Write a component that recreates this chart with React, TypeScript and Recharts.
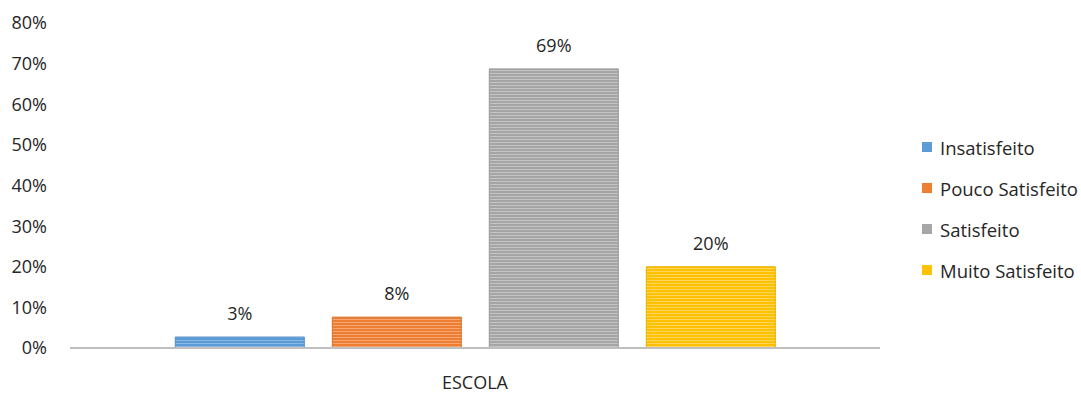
import { BarChart, Bar, XAxis, YAxis, LabelList } from "recharts";

const categories = ["ESCOLA"];
const seriesNames = ["Insatisfeito", "Pouco Satisfeito", "Satisfeito", "Muito Satisfeito"];
const seriesValues = [2.7, 7.6, 68.7, 20];
const yTicks = [0, 10, 20, 30, 40, 50, 60, 70, 80];

const COLORS = ["#5B9BD5", "#ED7D31", "#A5A5A5", "#FFC000"];
const LIGHT = ["#8CB8E3", "#F4A774", "#C4C4C4", "#FFD659"];
const EDGE = ["#4F8BC2", "#D66E28", "#969696", "#E8AE00"];

const data = categories.map((name) => {
  const row: Record<string, number | string> = { name };
  seriesNames.forEach((s, i) => (row[s] = seriesValues[i]));
  return row;
});

const FONT = "'Open Sans', sans-serif";
const TEXT = "#262626";

export default function App() {
  return (
    <div style={{ position: "absolute", left: 0, top: 0, width: 1081, height: 394, background: "#fff", fontFamily: FONT }}>
      <BarChart
        width={1081}
        height={394}
        data={data}
        margin={{ top: 23, right: 201, bottom: 0, left: 0 }}
        barCategoryGap="13%"
        barGap={28}
      >
        <defs>
          {COLORS.map((c, i) => (
            <pattern key={i} id={`stripe${i}`} width="4" height="3" patternUnits="userSpaceOnUse">
              <rect width="4" height="3" fill={c} />
              <rect y="1" width="4" height="1" fill={LIGHT[i]} />
            </pattern>
          ))}
        </defs>
        <XAxis
          dataKey="name"
          height={46}
          tickLine={false}
          tickSize={0}
          tickMargin={28}
          axisLine={{ stroke: "#BFBFBF", strokeWidth: 2 }}
          tick={{ fill: TEXT, fontSize: 18, fontFamily: FONT }}
        />
        <YAxis
          width={70}
          domain={[0, 80]}
          ticks={yTicks}
          tickFormatter={(v) => `${v}%`}
          axisLine={false}
          tickLine={false}
          tickSize={0}
          tickMargin={23}
          tick={{ fill: TEXT, fontSize: 18, fontFamily: FONT }}
        />
        {seriesNames.map((s, i) => (
          <Bar key={s} dataKey={s} fill={`url(#stripe${i})`} stroke={EDGE[i]} strokeWidth={1} isAnimationActive={false}>
            <LabelList
              dataKey={s}
              position="top"
              offset={17}
              formatter={(v: any) => `${Math.round(Number(v))}%`}
              style={{ fill: TEXT, fontSize: 18, fontFamily: FONT }}
            />
          </Bar>
        ))}
      </BarChart>
      <div style={{ position: "absolute", left: 922, top: 135, display: "flex", flexDirection: "column", gap: 17 }}>
        {seriesNames.map((s, i) => (
          <div key={s} style={{ display: "flex", alignItems: "center", height: 24, fontSize: 18.5, color: TEXT }}>
            <svg width={10} height={10} style={{ marginRight: 8 }}>
              <rect width={10} height={10} fill={`url(#stripe${i})`} />
              <rect width={10} height={10} fill={COLORS[i]} opacity={0.85} />
            </svg>
            <span>{s}</span>
          </div>
        ))}
      </div>
    </div>
  );
}
